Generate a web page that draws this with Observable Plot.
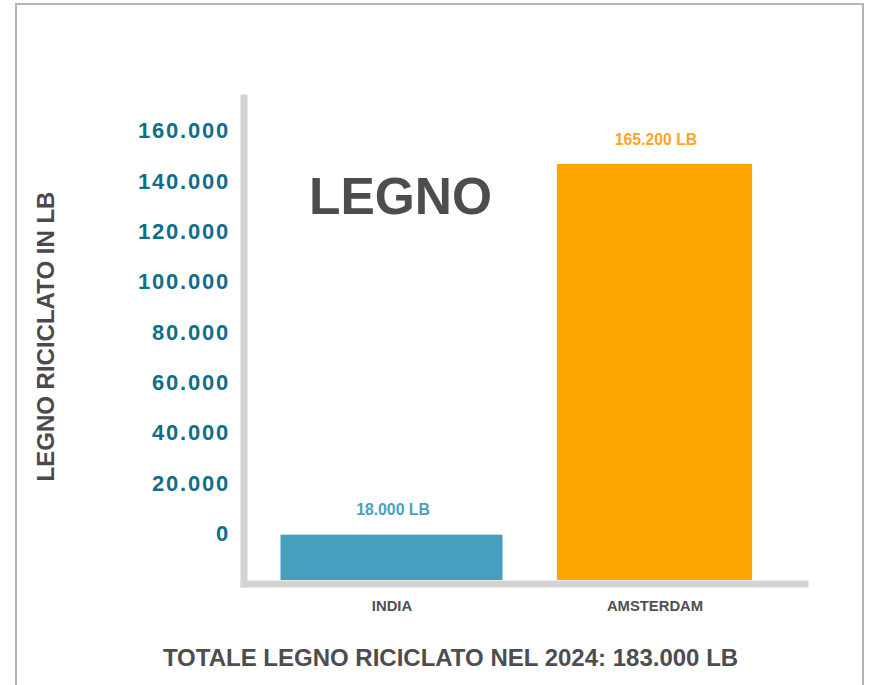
<!DOCTYPE html>
<html>
<head>
<meta charset="utf-8">
<script src="https://cdn.jsdelivr.net/npm/d3@7"></script>
<script src="https://cdn.jsdelivr.net/npm/@observablehq/plot@0.6"></script>
<style>
  html, body { margin: 0; padding: 0; background: #fff; overflow: hidden; }
  #wrap { position: relative; width: 873px; height: 685px; font-family: "Liberation Sans", Arial, Helvetica, sans-serif; }
  #border { position: absolute; left: 15px; top: 3px; width: 845px; height: 720px; border: 2px solid #b4b4b6; border-bottom: none; box-sizing: content-box; }
  #chart { position: absolute; left: 0; top: 0; }
  #caption { position: absolute; left: 450.5px; top: 646px; transform: translateX(-50%); white-space: nowrap;
             font-size: 24px; line-height: 1; font-weight: bold; color: #4d4d4f; }
  .ytick [aria-label="y-axis tick label"] text { letter-spacing: 1.8px; }
</style>
</head>
<body>
<div id="wrap">
  <div id="border"></div>
  <div id="chart"></div>
  <div id="caption"></div>
</div>
<script>
// ---- data ----
const categories = ["INDIA", "AMSTERDAM"];
const values = [18000, 165200];
const barColors = ["#479fbf", "#ffa500"];
const valueLabelColors = ["#4aa0c2", "#ffa51f"];
const yTicks = [0, 20000, 40000, 60000, 80000, 100000, 120000, 140000, 160000];
const titleText = "LEGNO";
const yAxisTitle = "LEGNO RICICLATO IN LB";
const captionText = "TOTALE LEGNO RICICLATO NEL 2024: 183.000 LB";

const locale = d3.formatLocale({decimal: ",", thousands: ".", grouping: [3], currency: ["", ""]});
const fmt = locale.format(",d");

const table = categories.map((c, i) => ({cat: c, value: values[i], color: barColors[i], labelColor: valueLabelColors[i]}));

const font = "'Liberation Sans', Arial, Helvetica, sans-serif";

const chart = Plot.plot({
  width: 873,
  height: 630,
  marginLeft: 243.5,
  marginRight: 68.5,
  marginTop: 97.5,
  marginBottom: 46.5,
  className: "ytick",
  style: {fontFamily: font, background: "transparent", overflow: "visible"},
  x: {type: "band", domain: categories, range: [259.8, 786.6], padding: 0, axis: null, label: null},
  y: {domain: [0, d3.max(values)], range: [580, 164], axis: null, label: null},
  color: {type: "identity"},
  marks: [
    Plot.barY(table, {filter: (d, i) => i === 0, x: "cat", y: "value", fill: "color", insetLeft: 20.5, insetRight: 20.5}),
    Plot.barY(table, {filter: (d, i) => i === 1, x: "cat", y: "value", fill: "color", insetLeft: 33.9, insetRight: 33.9}),
    Plot.frame({anchor: "left", stroke: "#d3d3d3", strokeWidth: 7, strokeLinecap: "square"}),
    Plot.frame({anchor: "bottom", stroke: "#d3d3d3", strokeWidth: 7, strokeLinecap: "square"}),
    Plot.axisY(yTicks, {anchor: "left", label: null, tickSize: 0, tickPadding: 14, dy: -46.5, tickFormat: fmt,
      fontSize: 22, fontWeight: "bold", fill: "#0f6e89"}),
    Plot.axisX({anchor: "bottom", label: null, tickSize: 0, tickPadding: 16.5, fontSize: 14.8, fontWeight: "bold", fill: "#505050"}),
    Plot.text(table, {x: "cat", y: "value", text: d => fmt(d.value) + " LB", dy: -25, dx: 1,
      fill: "labelColor", fontSize: 15.8, fontWeight: "bold", lineAnchor: "middle"}),
    Plot.text([titleText], {frameAnchor: "top-left", dx: 156.5, dy: 100, text: d => d, textAnchor: "middle",
      lineAnchor: "middle", fontSize: 51.5, fontWeight: "bold", fill: "#4d4d4f"}),
    Plot.text([yAxisTitle], {frameAnchor: "left", dx: -197.5, dy: -4.5, rotate: -90, text: d => d,
      textAnchor: "middle", lineAnchor: "middle", fontSize: 24, fontWeight: "bold", fill: "#4a4a4c"})
  ]
});
document.getElementById("chart").appendChild(chart);
document.getElementById("caption").textContent = captionText;
</script>
</body>
</html>
